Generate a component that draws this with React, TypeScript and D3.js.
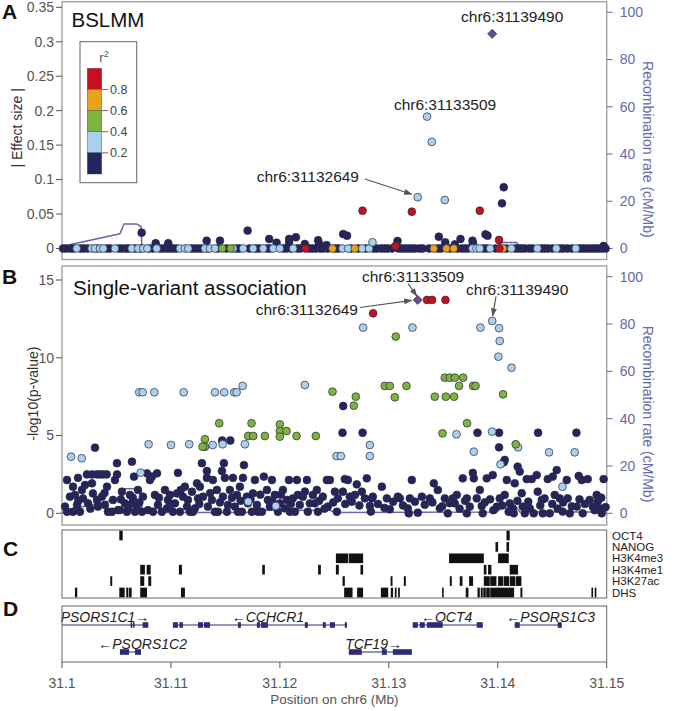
import React from 'react';
import * as d3 from 'd3';

// ---------------- DATA ----------------
const REGION_START_MB = 31.1; // positions below are kb offsets from 31.1 Mb
const xTicksMb = [31.1, 31.11, 31.12, 31.13, 31.14, 31.15];
const effectTicks = [0, 0.05, 0.1, 0.15, 0.2, 0.25, 0.3, 0.35];
const pvalTicks = [0, 5, 10, 15];
const recombTicks = [0, 20, 40, 60, 80, 100];
const r2Labels = ['0.2', '0.4', '0.6', '0.8'];
const r2Colors = ['#25245f', '#a8d0ef', '#7db43f', '#e8a21d', '#c5101f'];
const leadColor = '#6a4d95';

// Recombination rate (cM/Mb)
const recombKb = [0, 0.89, 5.32, 5.69, 6.85, 7.25, 7.34, 17.71, 18.35, 24.59, 25.05, 39.91, 40.37, 41.74, 42.02, 50];
const recombRate = [0.3, 1.8, 6.2, 10.4, 10.4, 9.3, 0.3, 0.3, 1.3, 1.3, 0.3, 0.5, 2.5, 2.5, 0.6, 0.6];

// ---- Panel A: BSLMM |effect size| ----
const bslmmLead: [number, number][] = [[39.49, 0.3115]];
const bslmmNavy: [number, number][] = [
  [40.55, 0.0889], [40.39, 0.0656], [25.81, 0.021], [26.17, 0.0186], [30.8, 0.0109], [34.59, 0.0171],
  [35.18, 0.009], [36.06, 0.006], [36.58, 0.0138], [37.68, 0.0113], [37.73, 0.0075], [38.87, 0.0206],
  [39.06, 0.0186], [49.72, 0.0036], [7.31, 0.023], [8.6, 0.0076], [9.75, 0.0076], [13.28, 0.0113],
  [14.5, 0.0113], [17.04, 0.026], [19.02, 0.0138], [19.7, 0.0084], [20.85, 0.0138], [21.47, 0.0163],
  [20.85, 0.0085], [22.29, 0.0065], [23.51, 0.012], [23.6, 0.0065], [24.28, 0.005],
];
const bslmmNavyZeroKb = [
  0.1, 0.4, 0.75, 1.05, 1.7, 2.0, 2.35, 3.2, 4.1, 4.4, 5.2, 5.5, 5.85, 6.1, 6.7, 7.2, 8.0, 8.35, 9.0, 9.3,
  9.6, 9.9, 10.2, 10.5, 11.9, 12.2, 12.5, 12.8, 13.4, 14.3, 15.1, 16.0, 16.3, 17.2, 17.8, 18.1, 18.8, 19.1,
  20.3, 20.6, 21.0, 21.6, 21.9, 22.7, 23.0, 23.3, 23.7, 24.0, 24.4, 25.1, 25.4, 26.5, 27.2, 27.9, 28.6,
  28.9, 29.3, 29.6, 29.9, 30.3, 30.9, 31.2, 31.5, 31.8, 32.1, 32.4, 32.8, 33.1, 33.7, 34.5, 34.8, 35.6,
  36.3, 36.7, 37.0, 37.3, 38.7, 39.0, 39.8, 40.8, 41.6, 41.9, 42.2, 42.5, 42.9, 43.2, 44.0, 44.3, 44.6,
  45.0, 45.7, 46.0, 46.4, 46.8, 47.5, 47.8, 48.1, 48.4, 48.7, 49.0, 49.3, 49.6, 49.9,
];
const bslmmLightBlue: [number, number][] = [
  [33.51, 0.1914], [33.94, 0.1547], [32.65, 0.0744], [35.14, 0.0704], [28.5, 0.009],
];
const bslmmLightBlueZeroKb = [
  1.35, 2.72, 3.03, 3.49, 3.79, 4.86, 6.4, 7.0, 7.46, 7.83, 8.69, 10.83, 11.28, 11.59, 13.12, 13.58, 14.04,
  15.72, 16.63, 17.55, 18.47, 19.39, 20.0, 21.22, 25.75, 26.27, 27.55, 28.19, 37.68, 38.05, 38.35, 39.3,
  41.25, 43.64, 45.38, 47.16,
];
const bslmmGreenZeroKb = [14.71, 15.48];
const bslmmOrangeZeroKb = [24.83, 26.88, 34.13, 35.29, 35.96, 40.49];
const bslmmRed: [number, number][] = [
  [27.59, 0.0549], [32.11, 0.0534], [38.35, 0.0549], [30.61, 0.0036], [40.12, 0.0123], [40.15, 0], [22.36, 0],
];

// ---- Panel B: single-variant association, -log10(p) ----
const svaLead: [number, number][] = [[32.65, 13.72]];
const svaRed: [number, number][] = [[33.51, 13.72], [33.97, 13.72], [35.2, 13.72], [28.56, 12.86]];
const svaGreen: [number, number][] = [
  [30.64, 11.36], [35.14, 8.72], [35.6, 8.72], [36.06, 8.72], [36.82, 8.72], [29.63, 8.19], [30.09, 8.19],
  [31.62, 8.19], [36.45, 8.19], [37.74, 8.19], [37.96, 8.19], [24.83, 7.82], [26.97, 7.5], [30.55, 7.46],
  [34.22, 7.5], [35.23, 7.5], [35.99, 7.5], [40.49, 7.65], [26.79, 6.92], [37.18, 5.79], [34.93, 5.14],
  [41.65, 4.44], [14.43, 5.79], [17.4, 5.79], [20.0, 5.72], [20.0, 5.29], [20.61, 5.29], [20.0, 4.93],
  [13.12, 4.76], [13.12, 4.28], [12.91, 4.28], [17.09, 4.97], [17.55, 4.97], [18.62, 4.97], [21.53, 4.97],
  [23.3, 4.97],
];
const svaLightBlue: [number, number][] = [
  [39.49, 12.37], [27.64, 11.94], [32.17, 11.94], [38.41, 11.94], [40.12, 11.9], [40.18, 11.08],
  [40.06, 10.07], [41.26, 9.36], [36.21, 5.08], [39.48, 5.25], [41.86, 4.24], [28.26, 4.39], [28.26, 3.68],
  [25.2, 3.68], [25.6, 3.68], [37.8, 3.96], [44.71, 3.92], [47.06, 3.92], [40.25, 3.15], [45.94, 1.71],
  [7.09, 7.78], [7.4, 7.78], [8.47, 7.78], [11.17, 7.78], [14.04, 7.78], [14.89, 7.78], [15.81, 7.78],
  [16.03, 7.78], [16.58, 8.19], [22.29, 8.25], [0.83, 3.64], [1.81, 3.54], [7.95, 4.44], [10.0, 4.39],
  [11.68, 4.44], [13.83, 4.39], [14.74, 4.44], [16.79, 4.44], [7.22, 2.61], [17.09, 0.75], [19.63, 0.47],
];
const svaNavy: [number, number][] = [
  [25.81, 6.9], [25.75, 5.18], [27.59, 5.18], [38.14, 5.18], [40.12, 5.18], [43.7, 5.18], [47.22, 5.18],
  [40.12, 4.24], [40.55, 3.28], [40.64, 3.43], [14.7, 4.68], [15.45, 4.68],
  [0.28, 0.43], [0.46, 2.14], [0.46, 0.1], [0.73, 1.07], [1.01, 1.71], [1.19, 1.18], [1.38, 0.54],
  [1.47, 2.28], [1.65, 0.1], [1.01, 0.1], [1.83, 1.5], [1.93, 0.96], [2.29, 2.5], [2.39, 0.64], [2.11, 1.82],
  [2.75, 2.5], [2.84, 1.28], [3.03, 4.22], [3.21, 0.86], [2.75, 1.93], [3.3, 0.43], [3.49, 2.5], [3.76, 2.5],
  [3.18, 2.5], [4.1, 2.5], [3.67, 1.07], [4.13, 1.71], [3.94, 0.54], [4.22, 0.1], [5.05, 3.22], [4.86, 2.14],
  [5.05, 2.5], [4.68, 0.86], [5.14, 0.21], [4.59, 0.1], [5.32, 0.21], [5.5, 1.39], [5.78, 0.64], [5.96, 0.1],
  [6.24, 1.18], [6.06, 0.32], [6.42, 3.32], [6.61, 2.36], [6.42, 0.64], [6.88, 0.43], [6.97, 1.5], [6.7, 0.1],
  [7.8, 2.57], [7.43, 1.07], [8.07, 2.14], [7.34, 0.1], [7.89, 0.21], [8.72, 2.57], [8.26, 2.36], [8.53, 1.18],
  [8.81, 0.54], [8.35, 0.1], [9.45, 1.5], [9.72, 0.86], [9.17, 0.1], [9.63, 0.32], [9.91, 1.18], [10.64, 2.6],
  [10.37, 0.64], [10.18, 0.1], [10.55, 1.28], [10.83, 0.1], [11.28, 1.71], [11.56, 0.86], [11.1, 1.07],
  [11.74, 0.1], [11.47, 0.43], [11.93, 1.39], [12.2, 0.32], [12.48, 0.96], [12.02, 0.1], [12.39, 1.93],
  [12.84, 3.22], [13.3, 2.72], [13.3, 2.28], [12.94, 1.07], [13.39, 0.43], [12.66, 1.71], [13.85, 2.14],
  [13.76, 0.86], [14.22, 1.5], [14.31, 0.1], [14.04, 0.1], [14.86, 3.22], [14.68, 2.72], [14.95, 2.28],
  [14.77, 1.07], [15.23, 0.54], [15.14, 0.1], [15.41, 1.5], [15.69, 2.28], [16.06, 1.18], [15.87, 0.43],
  [16.15, 0.1], [16.33, 1.71], [16.7, 3.1], [16.61, 2.28], [16.97, 1.07], [16.51, 0.1], [17.06, 0.64],
  [17.71, 2.14], [17.52, 1.28], [17.89, 0.54], [17.98, 0.1], [17.43, 0.1], [18.53, 2.36], [18.81, 1.5],
  [18.9, 0.86], [18.35, 0.1], [19.08, 0.43], [19.27, 2.14], [19.54, 1.18], [19.82, 0.1], [20.0, 0.64],
  [20.83, 2.14], [20.28, 1.5], [20.64, 0.86], [20.92, 0.1], [20.46, 0.32], [21.56, 2.14], [21.19, 0.96],
  [21.65, 1.18], [21.83, 0.54], [21.38, 0.1], [22.48, 2.14], [22.11, 1.07], [22.57, 0.1], [22.75, 0.64],
  [23.39, 1.5], [23.21, 0.64], [23.49, 0.1], [23.03, 1.18], [24.31, 2.14], [24.59, 2.14], [23.94, 1.07],
  [24.4, 0.43], [25.32, 0.96], [25.23, 0.1], [25.05, 1.39], [25.96, 2.2], [26.24, 2.14], [25.78, 1.39],
  [26.42, 1.07], [26.88, 1.18], [27.06, 1.86], [27.52, 1.39], [27.98, 2.25], [27.8, 0.96], [28.44, 0.96],
  [28.26, 0.47], [28.35, 0.11], [28.53, 1.07], [29.36, 1.71], [29.82, 0.96], [30.09, 0.26], [30.83, 1.07],
  [31.01, 0.96], [31.93, 0.96], [32.11, 2.14], [31.74, 0.32], [31.83, 0], [32.66, 0.04], [33.03, 1.07],
  [33.76, 0.96], [34.13, 1.93], [34.5, 1.5], [34.68, 0.32], [35.14, 0.96], [35.41, 0], [35.87, 0.96],
  [36.24, 1.18], [36.06, 0.64], [36.79, 2.25], [37.16, 0.96], [37.16, 0], [37.43, 0.43], [37.71, 2.6],
  [37.8, 2.25], [38.07, 0.96], [38.35, 1.5], [38.53, 0.47], [38.62, 0], [38.99, 2.25], [39.54, 2.46],
  [39.91, 0.43], [40.18, 0.96], [40.64, 1.18], [40.83, 2.14], [41.1, 0.64], [41.38, 0.32], [41.47, 0],
  [41.56, 1.93], [41.83, 3.0], [42.02, 2.68], [42.2, 1.29], [42.29, 0.43], [42.48, 0], [42.66, 2.2],
  [43.12, 2.2], [42.94, 0.32], [43.3, 0], [43.58, 2.46], [43.67, 1.39], [44.04, 0.86], [44.13, 0],
  [44.59, 2.2], [44.77, 0], [45.05, 2.36], [45.41, 2.78], [45.23, 1.18], [45.69, 0.96], [45.96, 0.11],
  [46.33, 2.14], [46.42, 0.96], [46.61, 0], [47.25, 0.43], [47.43, 2.4], [47.71, 2.14], [47.8, 0],
  [48.26, 2.2], [48.44, 0.86], [48.72, 0.43], [49.08, 1.18], [49.17, 0.75], [49.36, 0.32], [49.72, 2.2],
  [49.54, 0], [26.0, 0.6], [26.6, 0.75], [27.3, 0.5], [29.0, 0.6], [29.6, 0.35], [30.4, 0.75], [31.3, 0.5],
  [32.4, 0.75], [33.3, 0.55], [34.0, 0.7], [34.9, 0.45], [35.6, 0.65], [36.5, 0.3], [37.0, 0.8], [38.8, 0.7],
  [39.3, 0.9], [39.6, 0.2], [40.4, 0.5], [41.0, 0.1], [41.8, 0.8], [42.8, 0.75], [43.9, 0.5], [44.3, 0.95],
  [45.0, 0.6], [45.5, 0.3], [46.0, 0.7], [46.8, 0.45], [47.5, 0.9], [48.0, 0.6], [48.9, 0.2], [49.5, 1.0],
  [49.9, 0.4], [1.5, 0.8], [2.6, 0.3], [3.9, 1.3], [5.4, 0.9], [6.5, 1.0], [7.1, 0.7], [8.9, 1.0], [9.9, 0.5],
  [10.9, 1.5], [12.6, 0.6], [13.6, 1.3], [14.5, 0.7], [15.6, 1.0], [16.4, 0.8], [17.3, 0.9], [18.2, 1.2],
  [19.3, 0.8], [20.1, 1.2], [21.0, 0.6], [22.3, 1.4], [23.6, 0.8], [24.1, 0.3], [24.9, 0.7],
];

// ---- Panel C: regulatory tracks, [startKb, endKb] ----
const trackNames = ['OCT4', 'NANOG', 'H3K4me3', 'H3K4me1', 'H3K27ac', 'DHS'];
const trackOCT4: [number, number][] = [[5.26, 5.57], [40.8, 41.1]];
const trackNANOG: [number, number][] = [[39.79, 40.03], [40.8, 41.04]];
const trackH3K4me3: [number, number][] = [[25.14, 26.27], [26.33, 27.64], [35.53, 38.72], [40.03, 41.01]];
const trackH3K4me1: [number, number][] = [
  [7.18, 7.61], [7.77, 8.14], [10.73, 11.01], [18.38, 18.62], [23.51, 23.76], [25.14, 25.41], [27.4, 27.64],
  [38.72, 38.96], [39.11, 39.42], [41.1, 41.86],
];
const trackH3K27ac: [number, number][] = [
  [4.43, 4.61], [7.18, 7.55], [7.92, 8.19], [25.75, 25.96], [30.16, 30.34], [31.38, 31.56], [35.6, 35.78],
  [36.51, 36.76], [37.37, 37.73], [38.72, 39.27], [39.31, 39.88], [40.03, 40.5], [40.55, 41.04],
  [41.1, 41.6], [41.65, 42.17],
];
const trackDHS: [number, number][] = [
  [1.19, 1.4], [5.26, 5.75], [5.9, 6.06], [6.12, 6.39], [7.18, 7.8], [10.92, 11.28], [25.9, 26.67],
  [27.09, 27.64], [29.27, 29.94], [30.18, 30.39], [30.55, 30.71], [30.85, 31.01], [34.89, 35.02],
  [37.06, 37.31], [38.14, 38.35], [38.44, 38.62], [38.67, 38.9], [38.94, 39.27], [39.31, 41.5],
  [42.08, 42.26], [48.6, 48.74], [48.9, 49.05],
];
const tracks = [trackOCT4, trackNANOG, trackH3K4me3, trackH3K4me1, trackH3K27ac, trackDHS];

// ---- Panel D: genes ----
const geneNames = ['PSORS1C1', 'CCHCR1', 'OCT4', 'PSORS1C3', 'PSORS1C2', 'TCF19'];
const geneStrand = ['+', '-', '-', '-', '-', '+'];
const geneRow = [0, 0, 0, 0, 1, 1];
const geneSpanKb: [number, number][] = [[0, 7.92], [10.18, 26.15], [32.2, 38.62], [41.56, 45.87], [5.32, 7.25], [26.33, 32.11]];
const geneLabelKb = [3.95, 18.9, 35.3, 44.85, 7.4, 28.6];
const geneExonsKb: [number, number][][] = [
  [[6.3, 6.45], [6.52, 6.64], [7.4, 7.92]],
  [[10.18, 10.64], [10.78, 11.1], [12.48, 12.94], [13.03, 13.58], [16.15, 16.42], [17.89, 18.17],
    [18.26, 18.9], [22.29, 22.57], [23.94, 24.22], [24.59, 25.05], [25.96, 26.15]],
  [[32.2, 32.66], [32.84, 33.3], [33.49, 34.95], [38.07, 38.62]],
  [[41.56, 42.02], [45.5, 45.87]],
  [[5.32, 6.15], [6.7, 7.25]],
  [[26.33, 27.52], [29.36, 29.82], [30.37, 32.11]],
];

// ---------------- RENDER ----------------
const W = 677, H = 711;
const FONT = "'Liberation Sans', Arial, Helvetica, sans-serif";
const L = 62, R = 606.7;
const A = { top: 1.7, bottom: 259.5, y0: 248.5, yTop: 7.3, rTop: 12.3 };
const B = { top: 266, bottom: 525, y0: 513.3, yTop: 280, rTop: 276.7 };
const C = { top: 530, bottom: 598 };
const D = { top: 606, bottom: 662, row: [625, 652], labelOff: [3.5, 3] };
const PT_R = 3.9;
const AXIS_GRAY = '#555';
const RECOMB = '#6767ad';

export default function App() {
  const x = d3.scaleLinear().domain([31.1, 31.15]).range([L, R]);
  const px = (kb: number) => x(REGION_START_MB + kb / 1000);
  const yA = d3.scaleLinear().domain([0, 0.35]).range([A.y0, A.yTop]);
  const yAr = d3.scaleLinear().domain([0, 100]).range([A.y0, A.rTop]);
  const yB = d3.scaleLinear().domain([0, 15]).range([B.y0, B.yTop]);
  const yBr = d3.scaleLinear().domain([0, 100]).range([B.y0, B.rTop]);
  const yC = d3.scaleBand<string>().domain(trackNames).range([C.top, C.bottom]).paddingInner(0.15).paddingOuter(0.06);

  const recombData = recombKb.map((k, i) => [k, recombRate[i]] as [number, number]);
  const lineA = d3.line<[number, number]>().x(d => px(d[0])).y(d => yAr(d[1]))(recombData) || '';
  const lineB = d3.line<[number, number]>().x(d => px(d[0])).y(d => yBr(d[1]))(recombData) || '';

  const dots = (pts: [number, number][], y: (v: number) => number, color: string, key: string) =>
    pts.map((d, i) => (
      <circle key={key + i} cx={px(d[0])} cy={y(d[1])} r={PT_R} fill={color} stroke="#2a2a3a" strokeWidth={0.7} />
    ));
  const diamond = (pts: [number, number][], y: (v: number) => number, key: string) =>
    pts.map((d, i) => {
      const cx = px(d[0]), cy = y(d[1]), s = 4.6;
      return <path key={key + i} d={`M${cx},${cy - s}L${cx + s},${cy}L${cx},${cy + s}L${cx - s},${cy}Z`} fill={leadColor} stroke="#333" strokeWidth={0.7} />;
    });
  const zeros = (kbs: number[]) => kbs.map(k => [k, 0] as [number, number]);

  const leftAxis = (ticks: number[], y: (v: number) => number, fmt: (v: number) => string, k: string) =>
    ticks.map(t => (
      <g key={k + t}>
        <line x1={L - 6} x2={L} y1={y(t)} y2={y(t)} stroke={AXIS_GRAY} strokeWidth={1} />
        <text x={L - 8} y={y(t)} dy="0.35em" textAnchor="end" fontSize={14} fill="#555">{fmt(t)}</text>
      </g>
    ));
  const rightAxis = (y: (v: number) => number, k: string) =>
    recombTicks.map(t => (
      <g key={k + t}>
        <line x1={R} x2={R + 6} y1={y(t)} y2={y(t)} stroke={RECOMB} strokeWidth={1} />
        <text x={R + 13} y={y(t)} dy="0.35em" fontSize={14} fill={RECOMB}>{t}</text>
      </g>
    ));
  const fmt2 = (v: number) => String(+v.toFixed(2));

  const arrow = (x1: number, y1: number, x2: number, y2: number, k: string) => (
    <line key={k} x1={x1} y1={y1} x2={x2} y2={y2} stroke="#555" strokeWidth={1.2} markerEnd="url(#ah)" />
  );

  const aLead = bslmmLead[0];
  const aLb1 = bslmmLightBlue[0];
  const aLb3 = bslmmLightBlue[2];
  const bLead = svaLead[0];
  const bRed = svaRed[0];
  const bLb = svaLightBlue[0];

  return (
    <svg width={W} height={H} style={{ position: 'absolute', left: 0, top: 0, background: '#fff' }} fontFamily={FONT}>
      <defs>
        <marker id="ah" viewBox="0 0 10 10" refX="9" refY="5" markerWidth="7" markerHeight="7" orient="auto">
          <path d="M0,1.5L10,5L0,8.5Z" fill="#555" />
        </marker>
        <clipPath id="dclip"><rect x={L} y={D.top} width={R - L} height={D.bottom - D.top} /></clipPath>
      </defs>
      <rect x={0} y={0} width={W} height={H} fill="#fff" />

      {/* ---------- Panel A ---------- */}
      <text x={2} y={19} fontSize={21} fontWeight="bold" fill="#111">A</text>
      <rect x={L} y={A.top} width={R - L} height={A.bottom - A.top} fill="none" stroke="#a3a3a3" strokeWidth={1.4} />
      {leftAxis(effectTicks, yA, fmt2, 'ea')}
      {rightAxis(yAr, 'ra')}
      <text transform={`translate(17.5,${(A.y0 + A.yTop) / 2}) rotate(-90)`} textAnchor="middle" dy="0.35em" fontSize={14} fill="#333">| Effect size |</text>
      <text transform={`translate(648,${(A.y0 + A.rTop) / 2 + 19}) rotate(90)`} textAnchor="middle" dy="0.35em" fontSize={14} fill={RECOMB}>Recombination rate (cM/Mb)</text>
      <text x={71.5} y={27} fontSize={20.5} fill="#111">BSLMM</text>
      <path d={lineA} fill="none" stroke={RECOMB} strokeWidth={1.5} />
      {dots(zeros(bslmmNavyZeroKb), yA, r2Colors[0], 'anz')}
      {dots(bslmmNavy, yA, r2Colors[0], 'an')}
      {dots(zeros(bslmmLightBlueZeroKb), yA, r2Colors[1], 'alz')}
      {dots(bslmmLightBlue, yA, r2Colors[1], 'al')}
      {dots(zeros(bslmmGreenZeroKb), yA, r2Colors[2], 'agz')}
      {dots(zeros(bslmmOrangeZeroKb), yA, r2Colors[3], 'aoz')}
      {dots(bslmmRed, yA, r2Colors[4], 'ar')}
      {diamond(bslmmLead, yA, 'ald')}
      {/* legend */}
      <rect x={80} y={41.7} width={56.7} height={141} fill="#fff" stroke="#666" strokeWidth={1} />
      <text x={104} y={62} fontSize={13} fill="#555" textAnchor="middle">r<tspan dy={-5} fontSize={9}>2</tspan></text>
      {r2Colors.slice().reverse().map((c, i) => (
        <rect key={'lg' + i} x={87.3} y={68.3 + i * 21.14} width={14.4} height={21.14} fill={c} stroke="#444" strokeWidth={0.4} />
      ))}
      {r2Labels.slice().reverse().map((lab, i) => {
        const yy = 68.3 + (i + 1) * 21.14;
        return (
          <g key={'ll' + i}>
            <line x1={101.7} x2={108} y1={yy} y2={yy} stroke="#666" strokeWidth={1} />
            <text x={110} y={yy} dy="0.35em" fontSize={12.5} fill="#444">{lab}</text>
          </g>
        );
      })}
      {/* annotations A */}
      <text x={px(aLead[0]) + 20} y={22} textAnchor="middle" fontSize={15.5} fill="#222">chr6:31139490</text>
      <text x={px(aLb1[0]) + 18} y={109.5} textAnchor="middle" fontSize={15.5} fill="#222">chr6:31133509</text>
      <text x={359} y={182} textAnchor="end" fontSize={15.5} fill="#222">chr6:31132649</text>
      {arrow(365, 179, px(aLb3[0]) - 6, yA(aLb3[1]) - 3, 'aa1')}

      {/* ---------- Panel B ---------- */}
      <text x={2} y={284} fontSize={21} fontWeight="bold" fill="#111">B</text>
      <rect x={L} y={B.top} width={R - L} height={B.bottom - B.top} fill="none" stroke="#a3a3a3" strokeWidth={1.4} />
      {leftAxis(pvalTicks, yB, v => String(v), 'pb')}
      {rightAxis(yBr, 'rb')}
      <text transform={`translate(33,${(B.y0 + B.yTop) / 2 - 3}) rotate(-90)`} textAnchor="middle" dy="0.35em" fontSize={14} fill="#333">-log10(p-value)</text>
      <text transform={`translate(648,${(B.y0 + B.rTop) / 2 + 19}) rotate(90)`} textAnchor="middle" dy="0.35em" fontSize={14} fill={RECOMB}>Recombination rate (cM/Mb)</text>
      <text x={73} y={295} fontSize={20.5} fill="#111">Single-variant association</text>
      <path d={lineB} fill="none" stroke={RECOMB} strokeWidth={1.5} />
      {dots(svaNavy, yB, r2Colors[0], 'bn')}
      {dots(svaLightBlue, yB, r2Colors[1], 'bl')}
      {dots(svaGreen, yB, r2Colors[2], 'bg')}
      {dots(svaRed, yB, r2Colors[4], 'br')}
      {diamond(svaLead, yB, 'bld')}
      {/* annotations B */}
      <text x={px(bRed[0]) - 14} y={281.5} textAnchor="middle" fontSize={15.5} fill="#222">chr6:31133509</text>
      {arrow(408, 283.5, px(bLead[0]) - 1, yB(bLead[1]) - 4, 'ba1')}
      <text x={358} y={315} textAnchor="end" fontSize={15.5} fill="#222">chr6:31132649</text>
      {arrow(360, 307.5, px(bLead[0]) - 6, yB(bLead[1]) + 0.5, 'ba2')}
      <text x={px(bLb[0]) + 25} y={294.5} textAnchor="middle" fontSize={15.5} fill="#222">chr6:31139490</text>
      {arrow(496, 296.5, px(bLb[0]) + 0.5, yB(bLb[1]) - 5, 'ba3')}

      {/* ---------- Panel C ---------- */}
      <text x={3} y={556} fontSize={21} fontWeight="bold" fill="#111">C</text>
      <rect x={L} y={C.top} width={R - L} height={C.bottom - C.top} fill="#fff" stroke="#666" strokeWidth={1} />
      {tracks.map((segs, ti) =>
        segs.map((s, i) => (
          <rect key={'t' + ti + '_' + i} x={px(s[0])} y={yC(trackNames[ti])} width={Math.max(1.6, px(s[1]) - px(s[0]))}
            height={yC.bandwidth()} fill="#111" />
        ))
      )}
      {trackNames.map(n => (
        <text key={'tn' + n} x={612} y={(yC(n) || 0) + yC.bandwidth() / 2} dy="0.36em" fontSize={11.5} fill="#222">{n}</text>
      ))}

      {/* ---------- Panel D ---------- */}
      <text x={3} y={616} fontSize={21} fontWeight="bold" fill="#111">D</text>
      <g clipPath="url(#dclip)">
        {geneNames.map((g, gi) => {
          const yy = D.row[geneRow[gi]];
          return (
            <g key={'g' + g}>
              <line x1={px(geneSpanKb[gi][0])} x2={px(geneSpanKb[gi][1])} y1={yy} y2={yy} stroke="#2b2b7a" strokeWidth={1} />
              {geneExonsKb[gi].map((e, ei) => (
                <rect key={'e' + ei} x={px(e[0])} y={yy - 2.8} width={Math.max(1.5, px(e[1]) - px(e[0]))} height={5.6} fill="#2b2b7a" />
              ))}
            </g>
          );
        })}
      </g>
      {geneNames.map((g, gi) => (
        <text key={'gl' + g} x={px(geneLabelKb[gi])} y={D.row[geneRow[gi]] - D.labelOff[geneRow[gi]]} textAnchor="middle" fontSize={14}
          fontStyle="italic" fill="#222">{geneStrand[gi] === '+' ? `${g}\u2192` : `\u2190${g}`}</text>
      ))}
      <rect x={L} y={D.top} width={R - L} height={D.bottom - D.top} fill="none" stroke="#666" strokeWidth={1} />

      {/* bottom axis */}
      {xTicksMb.map(t => (
        <g key={'xt' + t}>
          <line x1={x(t)} x2={x(t)} y1={D.bottom} y2={D.bottom + 6} stroke={AXIS_GRAY} strokeWidth={1} />
          <text x={x(t)} y={683} dy="0.35em" textAnchor="middle" fontSize={14} fill="#555">{String(+t.toFixed(2))}</text>
        </g>
      ))}
      <text x={(L + R) / 2} y={699} dy="0.35em" textAnchor="middle" fontSize={13.5} fill="#555">Position on chr6 (Mb)</text>
    </svg>
  );
}
